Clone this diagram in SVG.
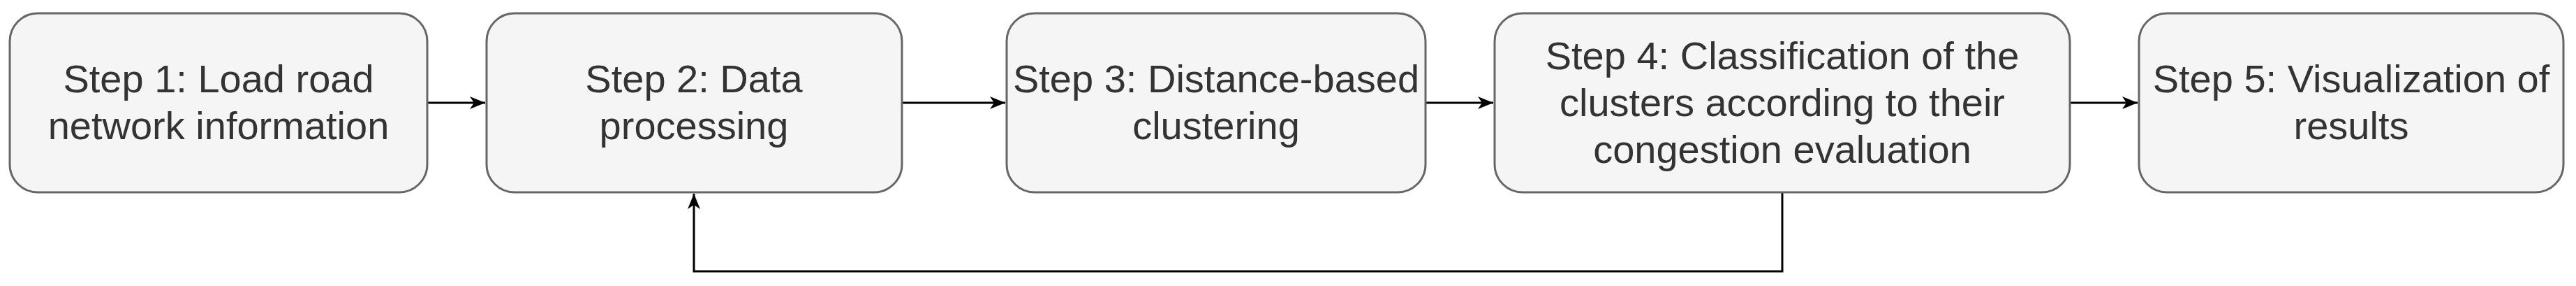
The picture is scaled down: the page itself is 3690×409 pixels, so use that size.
<svg xmlns="http://www.w3.org/2000/svg" width="3690" height="409" viewBox="0 0 3690 409">
<style>
.box{fill:#f5f5f5;stroke:#666;stroke-width:3}
.t{font-family:"Liberation Sans",Arial,sans-serif;font-size:56px;fill:#333;text-anchor:middle}
.c{fill:none;stroke:#000;stroke-width:3}
</style>
<defs><marker id="a" markerWidth="10" markerHeight="10" refX="9" refY="5" orient="auto" markerUnits="userSpaceOnUse" viewBox="0 0 10 10"><path d="M0,0 L10,5 L0,10 L2.5,5 Z" fill="#000" transform="scale(1)"/></marker>
<marker id="b" markerWidth="24" markerHeight="24" refX="22" refY="12" orient="auto" markerUnits="userSpaceOnUse"><path d="M0,3 L22,12 L0,21 L6,12 Z" fill="#000"/></marker></defs>
<g id="connectors">
<path class="c" d="M612,147 H695" marker-end="url(#b)"/>
<path class="c" d="M1292,147 H1440" marker-end="url(#b)"/>
<path class="c" d="M2042,147 H2139" marker-end="url(#b)"/>
<path class="c" d="M2965,147 H3062" marker-end="url(#b)"/>
<path class="c" d="M2553,275 V388 H994 V277" marker-end="url(#b)"/>
</g>
<g id="n1"><rect class="box" x="14" y="19" width="598" height="256" rx="40"/><text class="t" x="313" y="132">Step 1: Load road</text><text class="t" x="313" y="199">network information</text></g>
<g id="n2"><rect class="box" x="697" y="19" width="595" height="256" rx="40"/><text class="t" x="994" y="132">Step 2: Data</text><text class="t" x="994" y="199">processing</text></g>
<g id="n3"><rect class="box" x="1442" y="19" width="600" height="256" rx="40"/><text class="t" x="1742" y="132">Step 3: Distance-based</text><text class="t" x="1742" y="199">clustering</text></g>
<g id="n4"><rect class="box" x="2141" y="19" width="824" height="256" rx="40"/><text class="t" x="2553" y="99">Step 4: Classification of the</text><text class="t" x="2553" y="166">clusters according to their</text><text class="t" x="2553" y="233">congestion evaluation</text></g>
<g id="n5"><rect class="box" x="3064" y="19" width="608" height="256" rx="40"/><text class="t" x="3368" y="132">Step 5: Visualization of</text><text class="t" x="3368" y="199">results</text></g>
</svg>
